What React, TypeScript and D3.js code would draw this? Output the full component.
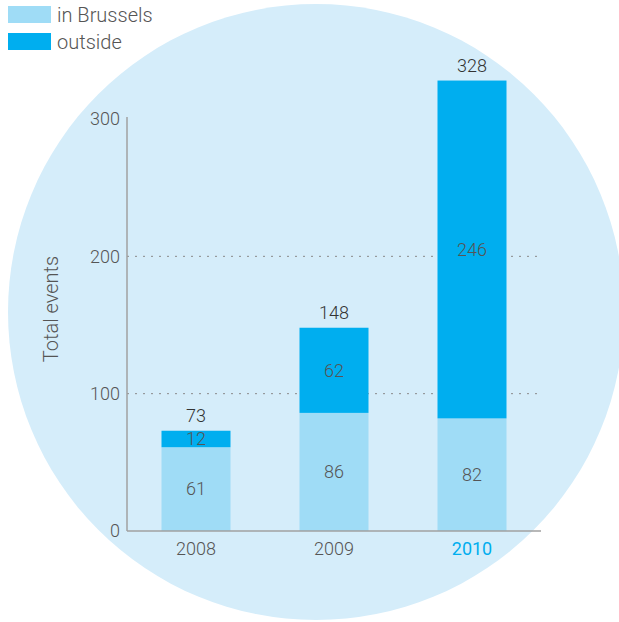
import React from 'react';
import * as d3 from 'd3';

const years = ['2008', '2009', '2010'];
const inBrussels = [61, 86, 82];
const outside = [12, 62, 246];
const totals = [73, 148, 328];
const yTicks = [0, 100, 200, 300];
const seriesNames = ['in Brussels', 'outside'];

const width = 619;
const height = 622;
const light = '#9fdcf6';
const dark = '#00aeef';
const textColor = '#555';
const font = 'Roboto, "Liberation Sans", sans-serif';

const App = () => {
  const margin = { top: 117, right: 78, bottom: 91, left: 127 };

  const x = d3
    .scaleBand<string>()
    .domain(years)
    .range([margin.left, width - margin.right])
    .paddingInner(0.5)
    .paddingOuter(0.25);

  const y = d3
    .scaleLinear()
    .domain([0, 300])
    .range([height - margin.bottom, 119]);

  const rows = years.map((year, i) => ({
    year,
    inBrussels: inBrussels[i],
    outside: outside[i],
    total: totals[i],
  }));

  const series = d3.stack<any>().keys(['inBrussels', 'outside'])(rows);
  const color = d3.scaleOrdinal<string>().domain(['inBrussels', 'outside']).range([light, dark]);

  return (
    <svg width={width} height={height} style={{ position: 'absolute', left: 0, top: 0 }}>
      <circle cx={316} cy={312} r={308} fill="#d5edfa" />

      {/* legend */}
      {seriesNames.map((name, i) => (
        <g key={name} transform={`translate(8,${6 + i * 27})`}>
          <rect width={43} height={17} fill={i === 0 ? light : dark} />
          <text x={49} y={16} fontFamily={font} fontWeight={300} fontSize={20} fill={textColor}>
            {name}
          </text>
        </g>
      ))}

      {/* grid */}
      {yTicks
        .filter((t) => t > 0 && t < 300)
        .map((t) => (
          <line
            key={t}
            x1={margin.left}
            x2={width - margin.right}
            y1={y(t)}
            y2={y(t)}
            stroke="#8a8a8a"
            strokeWidth={1}
            strokeDasharray="2,6"
          />
        ))}

      {/* bars */}
      {series.map((s) => (
        <g key={s.key} fill={color(s.key)}>
          {s.map((d: any) => (
            <rect
              key={d.data.year}
              x={x(d.data.year)}
              y={y(d[1])}
              width={x.bandwidth()}
              height={y(d[0]) - y(d[1])}
            />
          ))}
        </g>
      ))}

      {/* segment labels */}
      {series.map((s) =>
        s.map((d: any) => (
          <text
            key={s.key + d.data.year}
            x={(x(d.data.year) || 0) + x.bandwidth() / 2}
            y={y((d[0] + d[1]) / 2)}
            dy="0.35em"
            textAnchor="middle"
            fontFamily={font}
            fontWeight={300}
            fontSize={18}
            fill={textColor}
          >
            {d.data[s.key]}
          </text>
        ))
      )}

      {/* totals */}
      {rows.map((r) => (
        <text
          key={r.year}
          x={(x(r.year) || 0) + x.bandwidth() / 2}
          y={y(r.total) - 9}
          textAnchor="middle"
          fontFamily={font}
          fontWeight={300}
          fontSize={18}
          fill="#333"
        >
          {r.total}
        </text>
      ))}

      {/* axes */}
      <line x1={margin.left} x2={margin.left} y1={margin.top} y2={y(0)} stroke="#a0a0a0" strokeWidth={1.5} />
      <line x1={margin.left} x2={width - margin.right} y1={y(0)} y2={y(0)} stroke="#a0a0a0" strokeWidth={1.5} />

      {yTicks.map((t) => (
        <text
          key={t}
          x={margin.left - 7}
          y={y(t)}
          dy="0.35em"
          textAnchor="end"
          fontFamily={font}
          fontWeight={300}
          fontSize={18}
          fill={textColor}
        >
          {t}
        </text>
      ))}

      {years.map((yr, i) => (
        <text
          key={yr}
          x={(x(yr) || 0) + x.bandwidth() / 2}
          y={555}
          textAnchor="middle"
          fontFamily={font}
          fontWeight={i === years.length - 1 ? 400 : 300}
          fontSize={18}
          fill={i === years.length - 1 ? dark : textColor}
        >
          {yr}
        </text>
      ))}

      <text
        transform={`translate(58,309) rotate(-90)`}
        textAnchor="middle"
        fontFamily={font}
        fontWeight={300}
        fontSize={20}
        fill={textColor}
      >
        Total events
      </text>
    </svg>
  );
};

export default App;
